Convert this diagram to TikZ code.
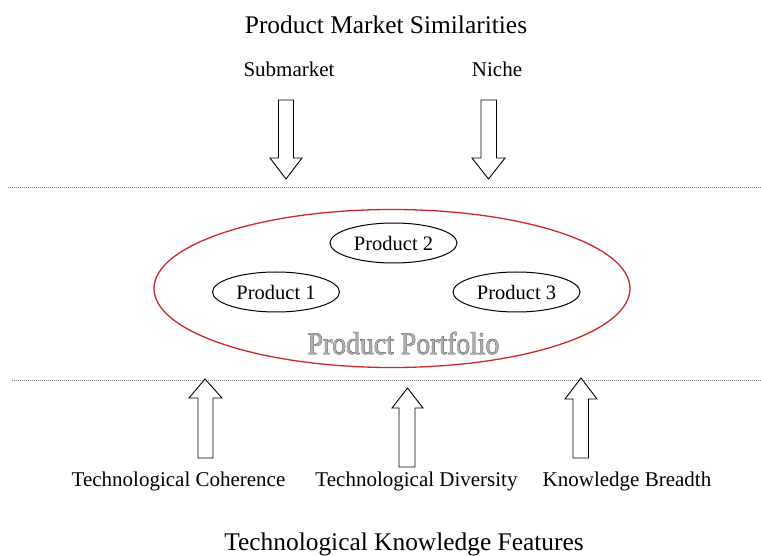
\documentclass[tikz,border=0pt]{standalone}
\usepackage{fontspec}
\setmainfont{Liberation Serif}
\newfontfamily\pfoutline[FakeBold=2]{Liberation Serif}
\newfontfamily\pffill{Liberation Serif}
\usetikzlibrary{shapes.geometric}
\begin{document}
\begin{tikzpicture}[x=1pt,y=-1pt,
  title/.style={inner sep=0pt, anchor=base, font=\fontsize{25.4}{28}\selectfont},
  lbl/.style={inner sep=0pt, anchor=base, font=\fontsize{21}{24}\selectfont},
  prod/.style={draw=black, line width=1pt, ellipse, inner sep=0pt, minimum width=127pt, minimum height=40pt, font=\fontsize{20.5}{24}\selectfont},
  portfolio/.style={draw={rgb,255:red,205;green,40;blue,40}, line width=1.3pt, ellipse, inner sep=0pt, minimum width=476pt, minimum height=158pt},
  pftext/.style={inner sep=0pt, anchor=base, xscale=0.88, transform shape},
  blockarr/.style={draw=black, line width=0.9pt, fill=white, line join=miter},
  dotline/.style={draw=gray, line width=0.9pt, dash pattern=on 1pt off 1pt}
]
\useasboundingbox (0,0) rectangle (761,556);

% titles
\node[title] (ttop) at (386,33.5) {Product Market Similarities};
\node[title] (tbot) at (404,550) {Technological Knowledge Features};

% top labels
\node[lbl] (sub) at (289,77) {Submarket};
\node[lbl] (niche) at (497,77) {Niche};

% down arrows
\draw[blockarr] (278.5,100) -- (293.5,100) -- (293.5,158) -- (302,158) -- (286,179) -- (270,158) -- (278.5,158) -- cycle;
\draw[blockarr] (481,100) -- (496.5,100) -- (496.5,158) -- (505,158) -- (488.5,179) -- (472,158) -- (481,158) -- cycle;

% dotted lines
\draw[dotline] (8,187) -- (761,187);
\draw[dotline] (12,380) -- (761,380);

% portfolio
\node[portfolio] (pf) at (392,288.5) {};
\node[prod] (p2) at (393.5,243) {Product 2};
\node[prod] (p1) at (276,292) {Product 1};
\node[prod] (p3) at (516.5,292) {Product 3};
\node[pftext, text={rgb,255:red,95;green,95;blue,95}, font=\fontsize{31.5}{34}\pfoutline] (pfo) at (403.5,354) {Product Portfolio};
\node[pftext, text={rgb,255:red,175;green,175;blue,175}, font=\fontsize{31.5}{34}\pffill] (pft) at (403.5,354) {Product Portfolio};

% up arrows
\draw[blockarr] (205,379) -- (222,398) -- (213,398) -- (213,458) -- (198,458) -- (198,398) -- (189,398) -- cycle;
\draw[blockarr] (407.5,388) -- (423,408) -- (415,408) -- (415,467) -- (399,467) -- (399,408) -- (392,408) -- cycle;
\draw[blockarr] (581,378) -- (597,399) -- (588.5,399) -- (588.5,458) -- (573,458) -- (573,399) -- (565,399) -- cycle;

% bottom labels
\node[lbl] (coh) at (178.5,486) {Technological Coherence};
\node[lbl] (div) at (416.5,486) {Technological Diversity};
\node[lbl] (bre) at (627,486) {Knowledge Breadth};
\end{tikzpicture}
\end{document}
